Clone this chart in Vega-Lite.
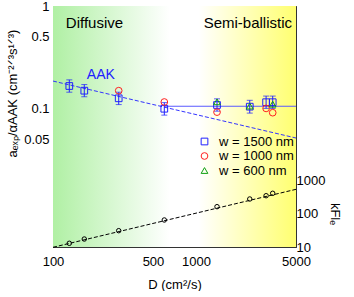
{
  "$schema": "https://vega.github.io/schema/vega-lite/v6.json",
  "padding": {"left": 6, "top": 0, "right": 4, "bottom": 0},
  "spacing": 0,
  "bounds": "flush",
  "config": {
    "font": "Liberation Sans",
    "view": {"stroke": null},
    "axis": {
      "labelFont": "Liberation Sans", "labelFontSize": 13, "labelColor": "black", "labelFlush": false,
      "titleFont": "Liberation Sans", "titleFontSize": 13, "titleFontWeight": "normal", "titleColor": "black",
      "tickColor": "#333", "tickWidth": 1, "domain": false, "domainColor": "#333", "grid": false, "tickSize": 4, "labelOverlap": false, "zindex": 1
    },
    "legend": {"labelFont": "Liberation Sans", "labelFontSize": 13, "labelColor": "black"}
  },
  "datasets": {
    "pts": [
      {"D": 130, "v": 0.1655, "w": "w = 1500 nm"},
      {"D": 165.5, "v": 0.149, "w": "w = 1500 nm"},
      {"D": 288, "v": 0.1255, "w": "w = 1500 nm"},
      {"D": 600, "v": 0.0993, "w": "w = 1500 nm"},
      {"D": 1402, "v": 0.108, "w": "w = 1500 nm"},
      {"D": 2375, "v": 0.104, "w": "w = 1500 nm"},
      {"D": 3090, "v": 0.115, "w": "w = 1500 nm"},
      {"D": 3436, "v": 0.115, "w": "w = 1500 nm"},
      {"D": 288, "v": 0.149, "w": "w = 1000 nm"},
      {"D": 600, "v": 0.1155, "w": "w = 1000 nm"},
      {"D": 1402, "v": 0.092, "w": "w = 1000 nm"},
      {"D": 3090, "v": 0.1, "w": "w = 1000 nm"},
      {"D": 3436, "v": 0.0908, "w": "w = 1000 nm"},
      {"D": 1402, "v": 0.116, "w": "w = 600 nm"},
      {"D": 2375, "v": 0.1055, "w": "w = 600 nm"},
      {"D": 3436, "v": 0.11, "w": "w = 600 nm"}
    ],
    "err": [
      {"D": 130, "lo": 0.144, "hi": 0.19},
      {"D": 165.5, "lo": 0.13, "hi": 0.171},
      {"D": 288, "lo": 0.109, "hi": 0.144},
      {"D": 600, "lo": 0.086, "hi": 0.114},
      {"D": 1402, "lo": 0.094, "hi": 0.124},
      {"D": 2375, "lo": 0.09, "hi": 0.12},
      {"D": 3090, "lo": 0.1, "hi": 0.132},
      {"D": 3436, "lo": 0.1, "hi": 0.132}
    ],
    "kfl": [
      {"D": 130, "k": 12.9},
      {"D": 165.5, "k": 17.3},
      {"D": 288, "k": 30.7},
      {"D": 600, "k": 64},
      {"D": 1402, "k": 160},
      {"D": 2375, "k": 271},
      {"D": 3090, "k": 340},
      {"D": 3436, "k": 401}
    ]
  },
  "vconcat": [
    {
      "width": 243,
      "height": 174,
      "resolve": {"axis": {"x": "independent", "y": "independent"}},
      "layer": [
        {
          "data": {"values": [{"a": 1}]},
          "mark": {"type": "rect", "color": {"gradient": "linear", "x1": 0, "y1": 0, "x2": 1, "y2": 0,
            "stops": [{"offset": 0, "color": "#b0f0a4"}, {"offset": 0.48, "color": "#ffffff"}, {"offset": 0.6, "color": "#ffffff"}, {"offset": 1, "color": "#ffff70"}]}},
          "encoding": {
            "x": {"datum": 100, "type": "quantitative", "scale": {"type": "log", "domain": [100, 5000], "nice": false}, "axis": null},
            "x2": {"datum": 5000}
          }
        },
        {
          "data": {"values": [{"D": 100, "v": 0.185}, {"D": 5000, "v": 0.0514}]},
          "mark": {"type": "line", "color": "#3333ff", "strokeDash": [4, 2], "strokeWidth": 1},
          "encoding": {
            "x": {"field": "D", "type": "quantitative", "scale": {"type": "log", "domain": [100, 5000], "nice": false},
              "axis": {"orient": "bottom", "offset": -4, "title": null, "labels": false, "values": [100,200,300,400,500,600,700,800,900,1000,2000,3000,4000,5000]}},
            "y": {"field": "v", "type": "quantitative", "scale": {"type": "log", "domain": [0.02, 1], "nice": false},
              "axis": {"orient": "left", "offset": -4, "title": "aₑₓₚ/αAAK (cm⁻²ᐟ³s¹ᐟ³)", "titlePadding": 4, "labelPadding": 4,
                "values": [0.02,0.03,0.04,0.05,0.06,0.07,0.08,0.09,0.1,0.2,0.3,0.4,0.5,0.6,0.7,0.8,0.9,1],
                "labelExpr": "indexof([1,0.5,0.1,0.05], datum.value) >= 0 ? datum.label : ''"}}
          }
        },
        {
          "data": {"values": [{"D": 600, "v": 0.105}, {"D": 5000, "v": 0.105}]},
          "mark": {"type": "line", "color": "#5a5aff", "strokeWidth": 1.2},
          "encoding": {
            "x": {"field": "D", "type": "quantitative",
              "axis": {"orient": "top", "offset": -4, "title": null, "labels": false, "values": [100,200,300,400,500,600,700,800,900,1000,2000,3000,4000,5000]}},
            "y": {"field": "v", "type": "quantitative", "axis": {"orient": "right", "domain": true, "title": null, "labels": false, "ticks": false}}
          }
        },
        {
          "data": {"name": "err"},
          "mark": {"type": "rule", "color": "#2020ff", "strokeWidth": 1},
          "encoding": {
            "x": {"field": "D", "type": "quantitative", "axis": {"orient": "bottom", "domain": true, "title": null, "labels": false, "ticks": false}},
            "y": {"field": "lo", "type": "quantitative", "axis": {"orient": "left", "domain": true, "title": null, "labels": false, "ticks": false}},
            "y2": {"field": "hi"}
          }
        },
        {
          "data": {"name": "err"},
          "mark": {"type": "tick", "orient": "horizontal", "color": "#2020ff", "size": 6, "thickness": 1},
          "encoding": {
            "x": {"field": "D", "type": "quantitative", "axis": {"orient": "top", "domain": true, "title": null, "labels": false, "ticks": false}},
            "y": {"field": "lo", "type": "quantitative", "axis": null}
          }
        },
        {
          "data": {"name": "err"},
          "mark": {"type": "tick", "orient": "horizontal", "color": "#2020ff", "size": 6, "thickness": 1},
          "encoding": {
            "x": {"field": "D", "type": "quantitative", "axis": null},
            "y": {"field": "hi", "type": "quantitative", "axis": null}
          }
        },
        {
          "data": {"name": "pts"},
          "mark": {"type": "point", "filled": false, "strokeWidth": 1, "size": 45, "opacity": 1},
          "encoding": {
            "x": {"field": "D", "type": "quantitative", "axis": null},
            "y": {"field": "v", "type": "quantitative", "axis": null},
            "color": {"field": "w", "type": "nominal",
              "scale": {"domain": ["w = 1500 nm", "w = 1000 nm", "w = 600 nm"], "range": ["#2020ff", "#ff2020", "#10a010"]},
              "legend": {"title": null, "orient": "none", "legendX": 145, "legendY": 129, "rowPadding": 0.5, "symbolSize": 45, "symbolStrokeWidth": 1, "labelOffset": 8}},
            "shape": {"field": "w", "type": "nominal",
              "scale": {"domain": ["w = 1500 nm", "w = 1000 nm", "w = 600 nm"], "range": ["square", "circle", "triangle-up"]},
              "legend": {"title": null, "orient": "none", "legendX": 145, "legendY": 129, "rowPadding": 0.5, "symbolSize": 45, "symbolStrokeWidth": 1, "labelOffset": 8}}
          }
        },
        {
          "data": {"values": [{"D": 123, "v": 0.682, "t": "Diffusive"}]},
          "mark": {"type": "text", "align": "left", "baseline": "middle", "fontSize": 15, "color": "black"},
          "encoding": {
            "x": {"field": "D", "type": "quantitative", "axis": null},
            "y": {"field": "v", "type": "quantitative", "axis": null},
            "text": {"field": "t"}
          }
        },
        {
          "data": {"values": [{"D": 4690, "v": 0.682, "t": "Semi-ballistic"}]},
          "mark": {"type": "text", "align": "right", "baseline": "middle", "fontSize": 15, "color": "black"},
          "encoding": {
            "x": {"field": "D", "type": "quantitative", "axis": null},
            "y": {"field": "v", "type": "quantitative", "axis": null},
            "text": {"field": "t"}
          }
        },
        {
          "data": {"values": [{"D": 216, "v": 0.212, "t": "AAK"}]},
          "mark": {"type": "text", "align": "center", "baseline": "middle", "fontSize": 14, "color": "#2020ff"},
          "encoding": {
            "x": {"field": "D", "type": "quantitative", "axis": null},
            "y": {"field": "v", "type": "quantitative", "axis": null},
            "text": {"field": "t"}
          }
        }
      ]
    },
    {
      "width": 243,
      "height": 67,
      "resolve": {"axis": {"x": "independent", "y": "independent"}},
      "layer": [
        {
          "data": {"values": [{"a": 1}]},
          "mark": {"type": "rect", "color": {"gradient": "linear", "x1": 0, "y1": 0, "x2": 1, "y2": 0,
            "stops": [{"offset": 0, "color": "#b0f0a4"}, {"offset": 0.48, "color": "#ffffff"}, {"offset": 0.6, "color": "#ffffff"}, {"offset": 1, "color": "#ffff70"}]}},
          "encoding": {
            "x": {"datum": 100, "type": "quantitative", "scale": {"type": "log", "domain": [100, 5000], "nice": false}, "axis": null},
            "x2": {"datum": 5000},
            "y": {"datum": 10, "type": "quantitative", "scale": {"type": "log", "domain": [10, 1000], "nice": false},
              "axis": {"orient": "right", "domain": true, "title": null, "labels": false, "ticks": false}},
            "y2": {"datum": 1000}
          }
        },
        {
          "data": {"values": [{"D": 100, "k": 9.8}, {"D": 5000, "k": 527}]},
          "mark": {"type": "line", "color": "black", "strokeDash": [4, 2], "strokeWidth": 1},
          "encoding": {
            "x": {"field": "D", "type": "quantitative", "scale": {"type": "log", "domain": [100, 5000], "nice": false},
              "axis": {"orient": "bottom", "offset": -4, "title": "D (cm²/s)", "labelPadding": 8, "titlePadding": 10,
                "values": [100,200,300,400,500,600,700,800,900,1000,2000,3000,4000,5000],
                "labelExpr": "indexof([100,500,1000,5000], datum.value) >= 0 ? format(datum.value, 'd') : ''"}},
            "y": {"field": "k", "type": "quantitative", "scale": {"type": "log", "domain": [10, 1000], "nice": false},
              "axis": {"orient": "right", "offset": -4, "title": "kFlₑ", "titleAngle": 90, "titlePadding": 3, "labelPadding": 0,
                "values": [10,20,30,40,50,60,70,80,90,100,200,300,400,500,600,700,800,900,1000],
                "labelExpr": "indexof([10,100,1000], datum.value) >= 0 ? format(datum.value, 'd') : ''"}}
          }
        },
        {
          "data": {"name": "kfl"},
          "mark": {"type": "point", "filled": false, "color": "black", "strokeWidth": 1, "size": 20, "opacity": 1},
          "encoding": {
            "x": {"field": "D", "type": "quantitative", "axis": {"orient": "bottom", "domain": true, "title": null, "labels": false, "ticks": false}},
            "y": {"field": "k", "type": "quantitative", "axis": {"orient": "left", "domain": true, "title": null, "labels": false, "ticks": false}}
          }
        }
      ]
    }
  ]
}
